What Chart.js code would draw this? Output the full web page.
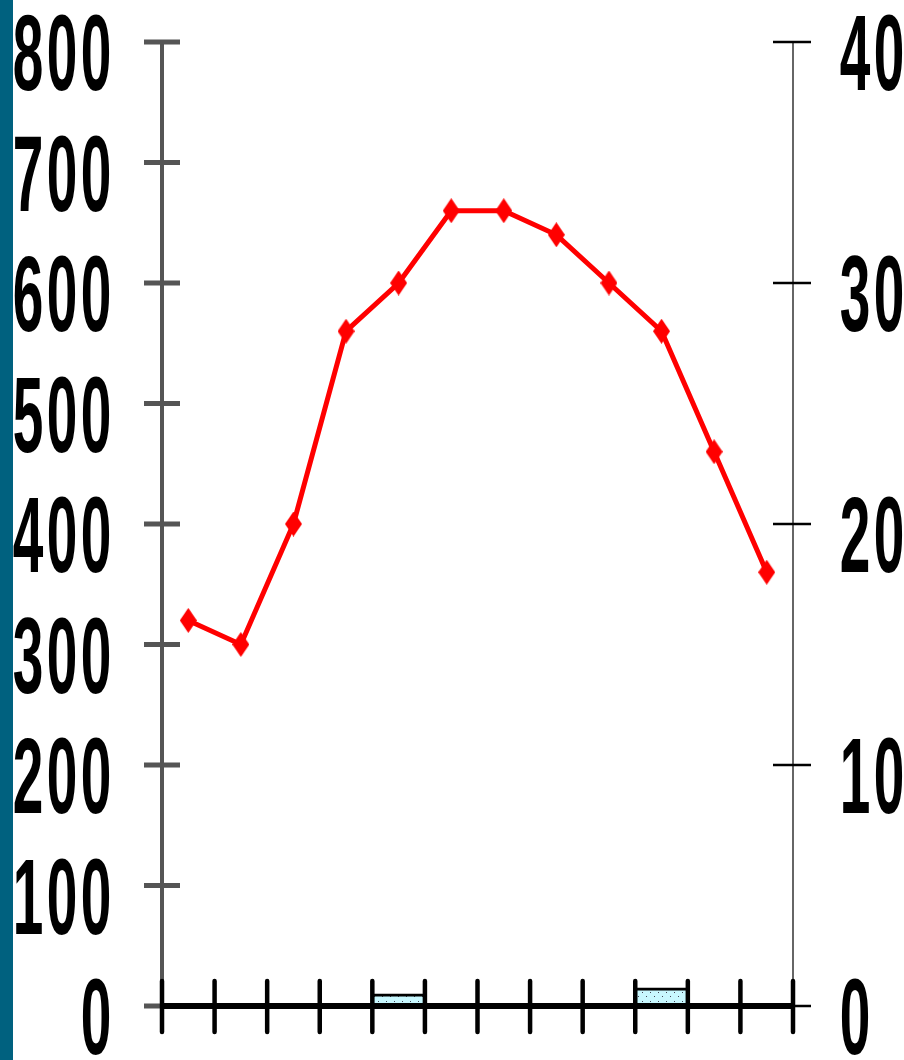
<!DOCTYPE html>
<html>
<head>
<meta charset="utf-8">
<script src="https://cdn.jsdelivr.net/npm/chart.js@4/dist/chart.umd.min.js"></script>
<style>
html,body{margin:0;padding:0;background:#fff;overflow:hidden;}
#wrap{position:relative;width:904px;height:1060px;}
#strip{position:absolute;left:0;top:0;width:13px;height:1060px;background:#00617f;}
canvas{position:absolute;left:0;top:0;}
</style>
</head>
<body>
<div id="wrap"><canvas id="c" width="904" height="1060"></canvas><div id="strip"></div></div>
<script>
// ---- data ----
const months = ['Jan','Feb','Mar','Apr','May','Jun','Jul','Aug','Sep','Oct','Nov','Dec'];
const temperature = [16, 15, 20, 28, 30, 33, 33, 32, 30, 28, 23, 18];
const precipitation = [0, 0, 0, 0, 10, 0, 0, 0, 0, 15, 0, 0];
const leftTicks = [0, 100, 200, 300, 400, 500, 600, 700, 800];
const rightTicks = [0, 10, 20, 30, 40];

function dotPattern() {
  const p = document.createElement('canvas');
  p.width = 8; p.height = 9;
  const g = p.getContext('2d');
  g.fillStyle = '#c8f8ff'; g.fillRect(0, 0, 8, 9);
  g.fillStyle = '#445';
  g.fillRect(2, 2, 1, 1);
  g.fillRect(6, 6, 1, 1);
  return g.createPattern(p, 'repeat');
}
function diamond(w, h, color) {
  const c = document.createElement('canvas');
  c.width = w; c.height = h;
  const g = c.getContext('2d');
  g.fillStyle = color;
  g.beginPath();
  g.moveTo(w / 2, 0); g.lineTo(w, h / 2); g.lineTo(w / 2, h); g.lineTo(0, h / 2);
  g.closePath(); g.fill();
  return c;
}

const axesPlugin = {
  id: 'axesPlugin',
  afterDatasetsDraw(chart) {
    const ctx = chart.ctx, a = chart.chartArea;
    const x = chart.scales.x, y = chart.scales.y, yR = chart.scales.yR;
    const pitch = 34;
    function line(x1, y1, x2, y2) { ctx.beginPath(); ctx.moveTo(x1, y1); ctx.lineTo(x2, y2); ctx.stroke(); }
    function glyph(ch, cx, py) {
      ctx.save();
      ctx.translate(cx, py);
      ctx.scale(0.55, 1.08);
      ctx.textAlign = 'center';
      ctx.textBaseline = 'alphabetic';
      ctx.font = 'bold 100px "Liberation Sans", Arial, sans-serif';
      ctx.fillStyle = '#000';
      ctx.fillText(ch, 0, 0);
      ctx.restore();
    }
    function labelRight(text, lastCenter, py) {
      const chars = text.split('');
      chars.forEach((ch, i) => glyph(ch, lastCenter - (chars.length - 1 - i) * pitch, py));
    }
    function labelLeft(text, firstCenter, py) {
      text.split('').forEach((ch, i) => glyph(ch, firstCenter + i * pitch, py));
    }
    ctx.save();
    // left axis
    ctx.strokeStyle = '#555'; ctx.lineWidth = 4; ctx.lineCap = 'butt';
    line(a.left, y.getPixelForValue(leftTicks[leftTicks.length - 1]), a.left, a.bottom);
    ctx.lineWidth = 5;
    leftTicks.forEach(v => { const py = y.getPixelForValue(v); line(a.left - 18, py, a.left + 18, py); });
    // right axis
    ctx.strokeStyle = '#333'; ctx.lineWidth = 1.5;
    line(a.right, yR.getPixelForValue(rightTicks[rightTicks.length - 1]), a.right, a.bottom);
    ctx.strokeStyle = '#000'; ctx.lineWidth = 2.5;
    rightTicks.forEach(v => { const py = yR.getPixelForValue(v); line(a.right - 20, py, a.right + 18, py); });
    // x axis
    ctx.strokeStyle = '#000'; ctx.lineWidth = 6;
    line(a.left, a.bottom, a.right, a.bottom);
    const step = x.getPixelForValue(1) - x.getPixelForValue(0);
    const start = x.getPixelForValue(0) - step / 2;
    ctx.lineWidth = 4.5; ctx.lineCap = 'round';
    for (let i = 0; i <= months.length; i++) {
      const px = start + i * step;
      line(px, a.bottom - 25, px, a.bottom + 26);
    }
    ctx.restore();
    // labels
    leftTicks.forEach(v => labelRight(String(v), a.left - 66, y.getPixelForValue(v) + 48));
    rightTicks.forEach(v => labelLeft(String(v), a.right + 62, yR.getPixelForValue(v) + 48));
  }
};

new Chart(document.getElementById('c'), {
  type: 'bar',
  data: {
    labels: months,
    datasets: [
      {
        type: 'line',
        data: temperature,
        yAxisID: 'yR',
        order: 0,
        borderColor: '#ff0000',
        borderWidth: 5,
        pointStyle: diamond(17, 25, '#ff0000'),
        pointRadius: 9,
        tension: 0,
        fill: false
      },
      {
        type: 'bar',
        data: precipitation,
        yAxisID: 'y',
        order: 1,
        backgroundColor: dotPattern(),
        borderColor: '#000',
        borderWidth: { top: 3, left: 0, right: 0, bottom: 0 },
        borderSkipped: 'bottom',
        barPercentage: 1,
        categoryPercentage: 1
      }
    ]
  },
  options: {
    responsive: false,
    animation: false,
    layout: { padding: { left: 162, right: 111, top: 42, bottom: 54 } },
    plugins: { legend: { display: false }, tooltip: { enabled: false } },
    scales: {
      x: { display: false, offset: true },
      y: { display: false, min: 0, max: 800, position: 'left' },
      yR: { display: false, min: 0, max: 40, position: 'right' }
    }
  },
  plugins: [axesPlugin]
});
</script>
</body>
</html>
